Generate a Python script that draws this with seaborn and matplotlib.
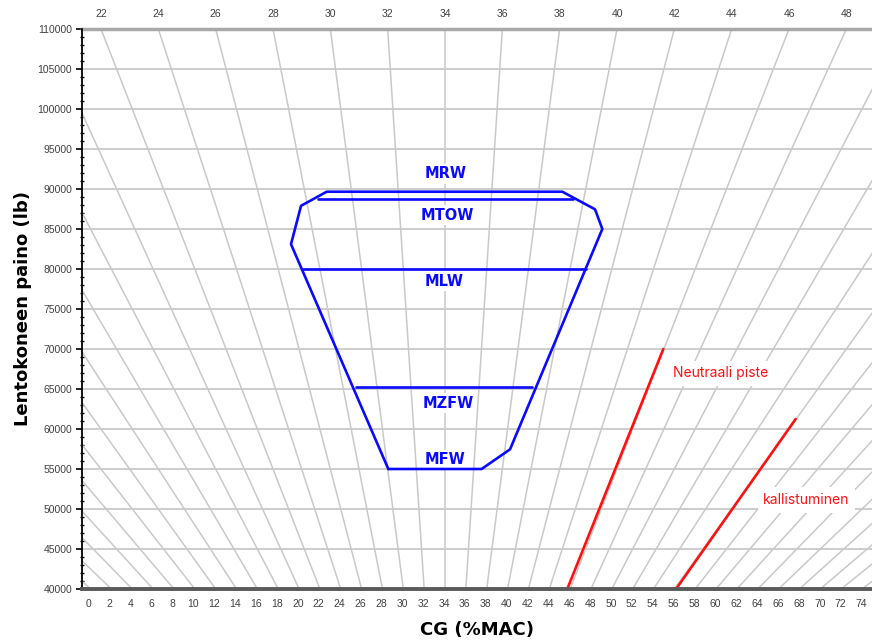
import numpy as np
import pandas as pd
import matplotlib
matplotlib.use("Agg")
import matplotlib.pyplot as plt
from matplotlib.ticker import MultipleLocator
import seaborn as sns

# ---------------- data ----------------
weight_ticks = list(range(40000, 110001, 5000))
index_ticks = list(range(0, 75, 2))
mac_ticks = list(range(22, 49, 2))
mac_grid = list(range(-2, 112, 2))

# balance-chart geometry (index units)
K_INDEX = 34.1        # index of the 34 %MAC line (vertical)
MAC_REF = 34
S_TOP = 2.746         # index per %MAC at 110000 lb
W_TOP = 110000

env_index = [28.67, 19.35, 20.31, 22.77, 45.34, 48.47, 49.17, 40.33, 37.61, 28.67]
env_weight = [55000, 83100, 87900, 89660, 89660, 87460, 85000, 57460, 55000, 55000]

limit_lines = {
    "MTOW": ([21.9, 46.33], [88750, 88750]),
    "MLW": ([20.53, 47.57], [80000, 80000]),
    "MZFW": ([25.55, 42.46], [65300, 65300]),
}
label_names = ["MRW", "MTOW", "MLW", "MZFW", "MFW"]
label_index = [34.2, 34.3, 34.0, 34.4, 34.1]
label_weight = [91875, 86750, 78500, 63250, 56125]

neutral_index = [45.81, 55.01]
neutral_weight = [40000, 70000]
tilt_index = [56.23, 67.69]
tilt_weight = [40000, 61250]

# ---------------- figure ----------------
sns.set_theme(style="white")
plt.rcParams["font.family"] = ["Liberation Sans", "DejaVu Sans"]

fig = plt.figure(figsize=(8.72, 6.43), dpi=100)
ax = fig.add_axes([82 / 872, 1 - 589 / 643, 1 - 82 / 872, (589 - 29) / 643])

GRID = "#c9c9c9"
for w in weight_ticks:
    ax.axhline(w, color=GRID, lw=1.3, zorder=1)

wts = np.array([40000, 110000])
for m in mac_grid:
    idx = K_INDEX + (wts / W_TOP) * S_TOP * (m - MAC_REF)
    ax.plot(idx, wts, color=GRID, lw=1.1, zorder=1)

BLUE = "#0a0aff"
env_df = pd.DataFrame({"index": env_index, "weight": env_weight})
sns.lineplot(data=env_df, x="index", y="weight", sort=False, estimator=None,
             color=BLUE, lw=1.9, ax=ax, zorder=3)
for name, (xs, ys) in limit_lines.items():
    sns.lineplot(x=xs, y=ys, sort=False, estimator=None, color=BLUE, lw=1.9, ax=ax, zorder=3)

for n, xi, yw in zip(label_names, label_index, label_weight):
    ax.text(xi, yw, n, color=BLUE, fontsize=10.5, fontweight="bold",
            family=["DejaVu Sans"], ha="center", va="center", zorder=2,
            bbox=dict(facecolor="white", edgecolor="none", pad=1.5))

RED = "#ff1010"
sns.lineplot(x=neutral_index, y=neutral_weight, sort=False, estimator=None,
             color=RED, lw=1.9, ax=ax, zorder=3)
sns.lineplot(x=tilt_index, y=tilt_weight, sort=False, estimator=None,
             color=RED, lw=1.9, ax=ax, zorder=3)
ax.text(55.97, 66960, "Neutraali piste", color=RED, fontsize=10, family=["Inter", "DejaVu Sans"],
        ha="left", va="center", zorder=4,
        bbox=dict(facecolor="white", edgecolor="none", pad=4))
ax.text(64.58, 51125, "kallistuminen", color=RED, fontsize=10, family=["Inter", "DejaVu Sans"],
        ha="left", va="center", zorder=4,
        bbox=dict(facecolor="white", edgecolor="none", pad=4))

ax.set_xlim(-0.67, 75.0)
ax.set_ylim(40000, 110000)
ax.set_xticks(index_ticks)
ax.set_yticks(weight_ticks)
ax.yaxis.set_minor_locator(MultipleLocator(1000))

TICKC = "#404040"
ax.tick_params(axis="x", which="both", length=0, pad=7, labelsize=7.5, labelcolor=TICKC)
ax.tick_params(axis="y", which="major", left=True, length=4, width=1.2, direction="out",
               pad=3, labelsize=7.5, labelcolor=TICKC, color="black")
ax.tick_params(axis="y", which="minor", left=True, length=3, width=1.0, direction="inout",
               color="black")

ax.spines["right"].set_visible(False)
ax.spines["left"].set_color("black")
ax.spines["left"].set_linewidth(1.3)
ax.spines["bottom"].set_color("#5a5a5a")
ax.spines["bottom"].set_linewidth(2.8)
ax.spines["top"].set_color("#a8a8a8")
ax.spines["top"].set_linewidth(2.5)
ax.spines["left"].set_zorder(5)
ax.spines["bottom"].set_zorder(5)

sec = ax.secondary_xaxis("top",
                         functions=(lambda i: MAC_REF + (np.asarray(i) - K_INDEX) / S_TOP,
                                    lambda m: K_INDEX + S_TOP * (np.asarray(m) - MAC_REF)))
sec.set_xticks(mac_ticks)
sec.tick_params(axis="x", length=0, pad=7, labelsize=7.5, labelcolor=TICKC)
sec.spines["top"].set_visible(False)

ax.set_xlabel("CG (%MAC)", fontsize=13, fontweight="heavy", family=["DejaVu Sans"],
              labelpad=9, color="black")
ax.set_ylabel("Lentokoneen paino (lb)", fontsize=13, fontweight="heavy", family=["DejaVu Sans"],
              labelpad=4, color="black")

fig.savefig("out.png", dpi=100)
